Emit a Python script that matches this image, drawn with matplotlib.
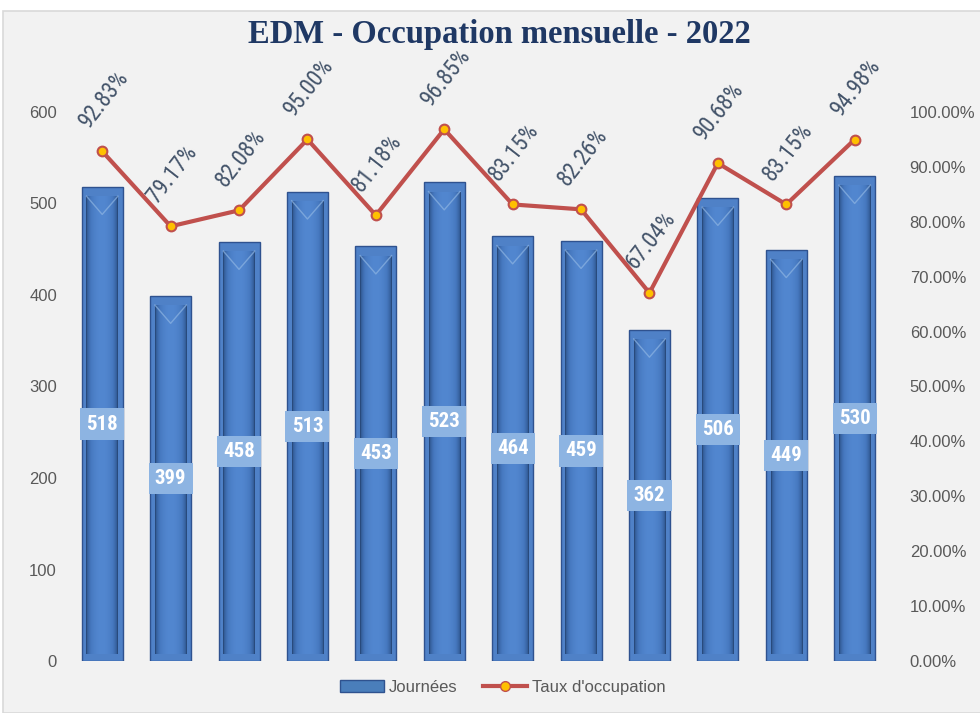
import numpy as np
import matplotlib
matplotlib.use('Agg')
import matplotlib.pyplot as plt
from matplotlib import font_manager
from matplotlib.patches import Rectangle
from matplotlib.lines import Line2D
from matplotlib.colors import LinearSegmentedColormap

mois = ['Jan', 'Fév', 'Mar', 'Avr', 'Mai', 'Juin', 'Juil', 'Août', 'Sep', 'Oct', 'Nov', 'Déc']
journees = [518, 399, 458, 513, 453, 523, 464, 459, 362, 506, 449, 530]
taux = [92.83, 79.17, 82.08, 95.00, 81.18, 96.85, 83.15, 82.26, 67.04, 90.68, 83.15, 94.98]

# police étroite si dispo
noms = sorted({f.name for f in font_manager.fontManager.ttflist})
etroites = [n for n in noms if 'Condensed' in n or 'Narrow' in n]
pref = ['Roboto Condensed', 'Liberation Sans Narrow', 'Noto Sans Condensed',
        'Open Sans Condensed', 'DejaVu Sans Condensed']
choix = [n for n in pref if n in noms] + [n for n in etroites if n not in pref]
narrow = (choix[:1] or []) + ['DejaVu Sans']
has_narrow = len(choix) > 0
sans = ['Liberation Sans', 'DejaVu Sans']

fig = plt.figure(figsize=(9.8, 7.13), dpi=100)
fig.patch.set_facecolor('white')
# panneau gris
fig.patches.append(Rectangle((3/980, 0), 1, 1 - 11/713, transform=fig.transFigure,
                             facecolor='#f2f2f2', edgecolor='#d9d9d9', lw=1.2, zorder=-5))

ax = fig.add_axes([0.0694, 0.0729, 0.8376, 0.7701])
ax.set_facecolor('none')
x = np.arange(len(mois))
w = 0.6

bars = ax.bar(x, journees, width=w, color='#4f81c7', edgecolor='#2f528f', lw=1.0, zorder=2)
# effet biseauté : dégradé horizontal dans chaque barre
grad = np.linspace(0, 1, 64)
prof = 0.55 + 0.45 * np.sin(np.pi * grad) ** 0.6
img = np.array(prof)[None, :]
cmap = LinearSegmentedColormap.from_list('b', ['#1c355c', '#335d99', '#4678bf', '#5287d0'])
for b, v in zip(bars, journees):
    x0 = b.get_x()
    im = ax.imshow(img, cmap=cmap, vmin=0.5, vmax=1.0, aspect='auto',
                   extent=(x0 + 0.07, x0 + w - 0.07, 8, v - 10), zorder=3)
    inner = Rectangle((x0 + 0.07, 8), w - 0.14, v - 18, transform=ax.transData)
    im.set_clip_path(inner)
    ax.plot([x0 + 0.07, x0 + w / 2, x0 + w - 0.07], [v - 10, v - 30, v - 10],
            color='#8db4e2', lw=1, alpha=0.7, zorder=4)
    ax.text(x0 + w / 2, v / 2, str(v), ha='center', va='center', color='white',
            fontsize=15 if has_narrow else 13, fontweight='bold', family=narrow, zorder=6,
            bbox=dict(boxstyle='square,pad=0.3', fc='#8db4e2', ec='none'))

ax.set_xlim(-0.5, len(mois) - 0.5)
ax.set_ylim(0, 600)
ax.set_yticks(range(0, 601, 100))
ax.set_xticks([])
for s in ax.spines.values():
    s.set_visible(False)
ax.tick_params(axis='y', length=0, labelsize=12, labelcolor='#595959', pad=8)
for lb in ax.get_yticklabels():
    lb.set_family(sans)

ax2 = ax.twinx()
ax2.set_ylim(0, 100)
ax2.set_yticks(range(0, 101, 10))
ax2.set_yticklabels(['{:.2f}%'.format(t) for t in range(0, 101, 10)], family=sans)
for s in ax2.spines.values():
    s.set_visible(False)
ax2.tick_params(axis='y', length=0, labelsize=12, labelcolor='#595959', pad=15)
ax2.plot(x, taux, color='#c0504d', lw=3, marker='o', ms=7, mfc='#ffc000',
         mec='#c0504d', mew=1.5, zorder=5)
for xi, t in zip(x, taux):
    ax2.annotate('{:.2f}%'.format(t), (xi, t), xytext=(1, 14), textcoords='offset points',
                 ha='center', va='bottom', rotation=52, fontsize=16.5 if has_narrow else 13,
                 color='#44546a', family=narrow, annotation_clip=False)

fig.text(0.51, 0.951, 'EDM - Occupation mensuelle - 2022', ha='center', va='center',
         fontsize=23.5, fontweight='bold', color='#1f3864',
         family=['Liberation Serif', 'DejaVu Serif'])

handles = [Rectangle((0, 0), 1, 1, fc='#4a7ebb', ec='#2f528f'),
           Line2D([], [], color='#c0504d', lw=3, marker='o', ms=7, mfc='#ffc000', mec='#c0504d')]
fig.legend(handles, ['Journées', "Taux d'occupation"], loc='center', bbox_to_anchor=(0.513, 0.036),
           ncol=2, frameon=False, prop={'family': sans, 'size': 12}, labelcolor='#595959',
           handlelength=2.65, columnspacing=1.5, handletextpad=0.3)

fig.savefig('out.png', dpi=100)
